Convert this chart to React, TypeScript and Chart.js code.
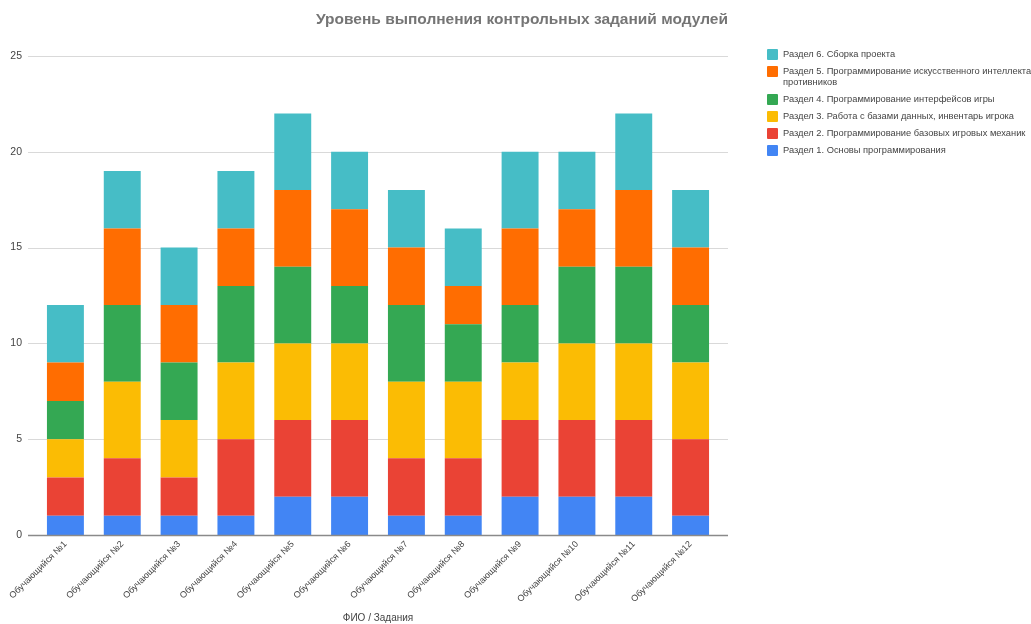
import React, { useEffect, useRef } from "react";
import { Chart, registerables } from "chart.js";

Chart.register(...registerables);

const students = [
  "Обучающийся №1", "Обучающийся №2", "Обучающийся №3", "Обучающийся №4",
  "Обучающийся №5", "Обучающийся №6", "Обучающийся №7", "Обучающийся №8",
  "Обучающийся №9", "Обучающийся №10", "Обучающийся №11", "Обучающийся №12",
];

const section1 = [1, 1, 1, 1, 2, 2, 1, 1, 2, 2, 2, 1];
const section2 = [2, 3, 2, 4, 4, 4, 3, 3, 4, 4, 4, 4];
const section3 = [2, 4, 3, 4, 4, 4, 4, 4, 3, 4, 4, 4];
const section4 = [2, 4, 3, 4, 4, 3, 4, 3, 3, 4, 4, 3];
const section5 = [2, 4, 3, 3, 4, 4, 3, 2, 4, 3, 4, 3];
const section6 = [3, 3, 3, 3, 4, 3, 3, 3, 4, 3, 4, 3];

const seriesNames = [
  "Раздел 1. Основы программирования",
  "Раздел 2. Программирование базовых игровых механик",
  "Раздел 3. Работа с базами данных, инвентарь игрока",
  "Раздел 4. Программирование интерфейсов игры",
  "Раздел 5. Программирование искусственного интеллекта противников",
  "Раздел 6. Сборка проекта",
];
const seriesValues = [section1, section2, section3, section4, section5, section6];
const seriesColors = ["#4285F4", "#EA4335", "#FBBC04", "#34A853", "#FF6D01", "#46BDC6"];

const yTicks = [0, 5, 10, 15, 20, 25];
const titleText = "Уровень выполнения контрольных заданий модулей";
const xTitle = "ФИО / Задания";

const FONT = "'Liberation Sans', Arial, sans-serif";

const extendedGrid = {
  id: "extendedGrid",
  beforeDatasetsDraw(chart: any) {
    const { ctx, chartArea, scales } = chart;
    const y = scales.y;
    const left = chartArea.left - 9;
    const right = chartArea.right + 9;
    ctx.save();
    y.ticks.forEach((t: any) => {
      if (t.value === 0) return;
      const py = Math.round(y.getPixelForValue(t.value)) + 0.5;
      ctx.strokeStyle = "#d9d9d9";
      ctx.lineWidth = 1;
      ctx.beginPath();
      ctx.moveTo(left, py);
      ctx.lineTo(right, py);
      ctx.stroke();
    });
    ctx.restore();
  },
  afterDatasetsDraw(chart: any) {
    const { ctx, chartArea, scales } = chart;
    const py = Math.round(scales.y.getPixelForValue(0)) + 0.5;
    ctx.save();
    ctx.strokeStyle = "#8a8a8a";
    ctx.lineWidth = 1.5;
    ctx.beginPath();
    ctx.moveTo(chartArea.left - 9, py);
    ctx.lineTo(chartArea.right + 9, py);
    ctx.stroke();
    ctx.restore();
  },
};

export default function App() {
  const ref = useRef<HTMLCanvasElement | null>(null);
  useEffect(() => {
    if (!ref.current) return;
    const chart = new Chart(ref.current, {
      type: "bar",
      data: {
        labels: students,
        datasets: seriesNames.map((name, i) => ({
          label: name,
          data: seriesValues[i],
          backgroundColor: seriesColors[i],
          borderWidth: 0,
          barPercentage: 0.65,
          categoryPercentage: 1,
        })),
      },
      plugins: [extendedGrid],
      options: {
        animation: false,
        responsive: false,
        maintainAspectRatio: false,
        layout: { padding: { left: 10, right: 312, top: 56, bottom: 0 } },
        plugins: {
          legend: { display: false },
          tooltip: { enabled: false },
          title: { display: false },
        },
        scales: {
          x: {
            stacked: true,
            grid: { display: false, drawTicks: false },
            border: { display: false },
            afterFit: (scale: any) => {
              scale.paddingLeft = 0;
              scale.paddingRight = 0;
              scale.height = 89;
            },
            ticks: {
              color: "#444444",
              font: { family: FONT, size: 9 },
              maxRotation: 45,
              minRotation: 45,
              padding: 4,
              autoSkip: false,
            },
            title: {
              display: true,
              text: xTitle,
              color: "#444444",
              font: { family: FONT, size: 10 },
              padding: { top: 0, bottom: 0 },
            },
          },
          y: {
            stacked: true,
            min: 0,
            max: 25,
            afterBuildTicks: (axis: any) => {
              axis.ticks = yTicks.map((v) => ({ value: v }));
            },
            afterFit: (scale: any) => {
              scale.width = 27;
            },
            grid: { display: false, drawTicks: false },
            border: { display: false },
            ticks: {
              color: "#444444",
              font: { family: FONT, size: 10.5 },
              padding: 15,
            },
          },
        },
      },
    });
    return () => chart.destroy();
  }, []);

  const legendOrder = [5, 4, 3, 2, 1, 0];

  return (
    <div style={{ position: "absolute", left: 0, top: 0, width: 1031, height: 624, background: "#fff", overflow: "hidden" }}>
      <canvas ref={ref} width={1031} height={624} style={{ display: "block" }} />
      <div
        style={{
          position: "absolute",
          left: 0,
          width: 1044,
          top: 10,
          textAlign: "center",
          fontFamily: FONT,
          fontSize: 15.5,
          fontWeight: "bold",
          color: "#757575",
          whiteSpace: "nowrap",
        }}
      >
        {titleText}
      </div>
      <div
        style={{
          position: "absolute",
          left: 767,
          top: 49,
          width: 266,
          fontFamily: FONT,
          fontSize: 9.3,
          color: "#444444",
          lineHeight: "11px",
        }}
      >
        {legendOrder.map((i) => (
          <div key={i} style={{ display: "flex", alignItems: "flex-start", marginBottom: 6 }}>
            <div
              style={{
                width: 11,
                height: 11,
                background: seriesColors[i],
                borderRadius: 1,
                flex: "0 0 11px",
                marginRight: 5,
              }}
            />
            <div>{seriesNames[i]}</div>
          </div>
        ))}
      </div>
    </div>
  );
}
